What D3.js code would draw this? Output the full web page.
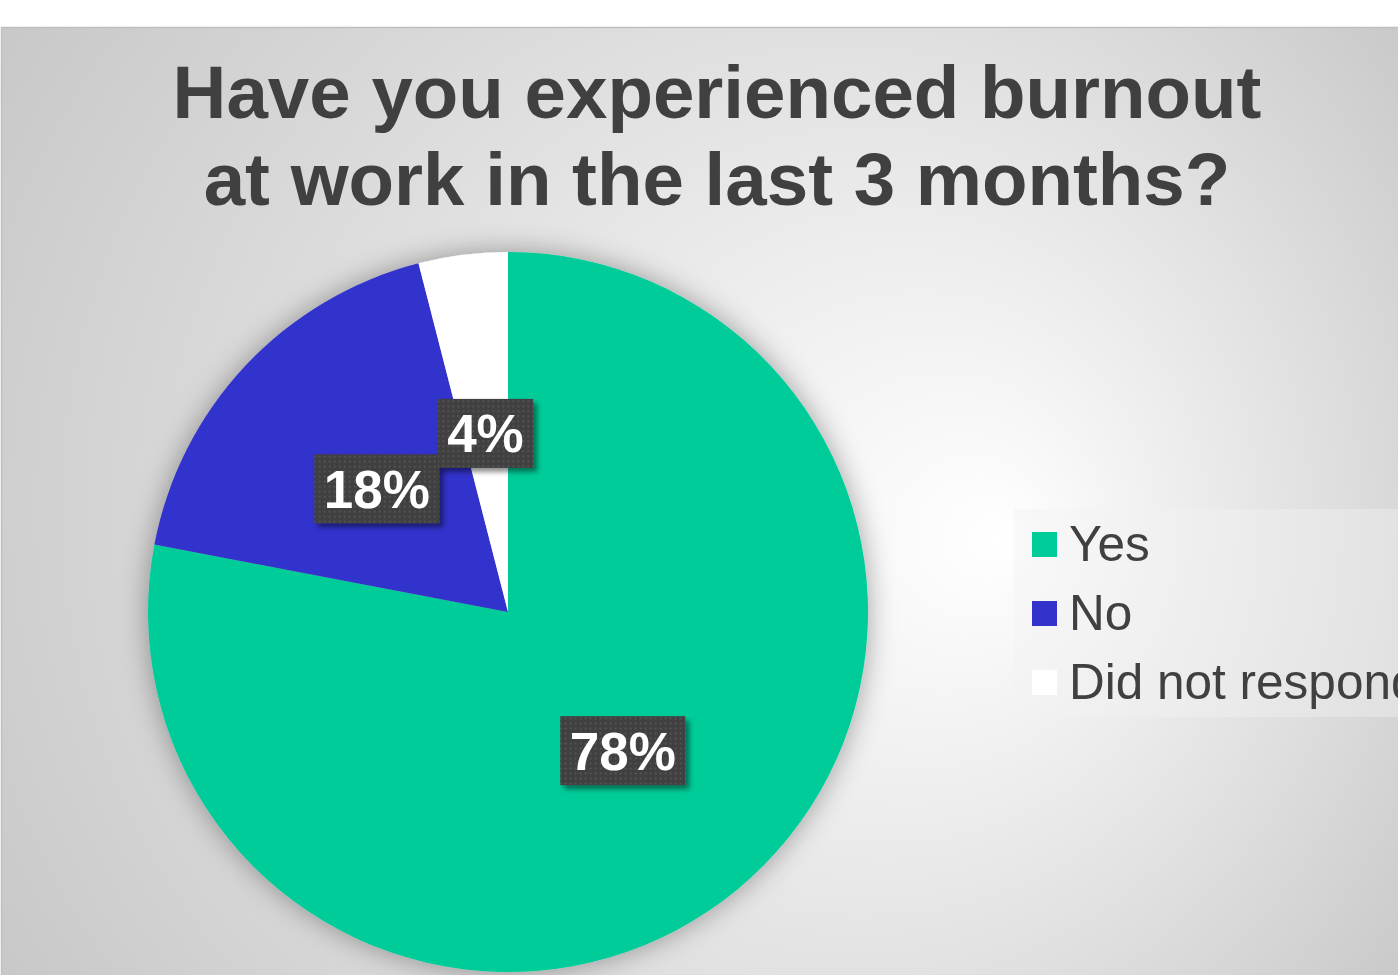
<!DOCTYPE html>
<html>
<head>
<meta charset="utf-8">
<script src="https://cdn.jsdelivr.net/npm/d3@7"></script>
<style>
  html, body { margin: 0; padding: 0; background: #ffffff; }
  svg { display: block; }
</style>
</head>
<body>
<div id="chart"></div>
<script>
// Data
const categories = ['Yes', 'No', 'Did not respond'];
const values = [78, 18, 4];
const colors = ['#00cc99', '#3333cc', '#ffffff'];
const titleLines = ['Have you experienced burnout', 'at work in the last 3 months?'];

const width = 1398;
const height = 975;
const font = '"Liberation Sans", Arial, Helvetica, sans-serif';

let svg = d3.select('#chart')
            .append('svg')
            .attr('width', width)
            .attr('height', height);

let defs = svg.append('defs');

// background gradient, light spot on the right
let grad = defs.append('radialGradient')
               .attr('id', 'bg')
               .attr('gradientUnits', 'userSpaceOnUse')
               .attr('cx', 700).attr('cy', 500).attr('r', 880)
               .attr('fx', 1000).attr('fy', 540);
grad.append('stop').attr('offset', 0).attr('stop-color', '#ffffff');
grad.append('stop').attr('offset', 0.55).attr('stop-color', '#e0e0e0');
grad.append('stop').attr('offset', 1).attr('stop-color', '#c6c6c6');

// soft halo under pie
let pieShadow = defs.append('filter')
                    .attr('id', 'pieShadow')
                    .attr('x', '-20%').attr('y', '-20%')
                    .attr('width', '140%').attr('height', '140%');
pieShadow.append('feGaussianBlur').attr('in', 'SourceAlpha').attr('stdDeviation', 14).attr('result', 'blur');
pieShadow.append('feFlood').attr('flood-color', '#000').attr('flood-opacity', 0.35);
pieShadow.append('feComposite').attr('in2', 'blur').attr('operator', 'in').attr('result', 'shadow');
let pm = pieShadow.append('feMerge');
pm.append('feMergeNode').attr('in', 'shadow');
pm.append('feMergeNode').attr('in', 'SourceGraphic');

// label box shadow
let boxShadow = defs.append('filter')
                    .attr('id', 'boxShadow')
                    .attr('x', '-20%').attr('y', '-20%')
                    .attr('width', '150%').attr('height', '150%');
boxShadow.append('feGaussianBlur').attr('in', 'SourceAlpha').attr('stdDeviation', 2.5).attr('result', 'blur');
boxShadow.append('feOffset').attr('in', 'blur').attr('dx', 4).attr('dy', 4).attr('result', 'off');
boxShadow.append('feFlood').attr('flood-color', '#000').attr('flood-opacity', 0.45);
boxShadow.append('feComposite').attr('in2', 'off').attr('operator', 'in').attr('result', 'shadow');
let bm = boxShadow.append('feMerge');
bm.append('feMergeNode').attr('in', 'shadow');
bm.append('feMergeNode').attr('in', 'SourceGraphic');

// dotted fill of the label boxes
let pat = defs.append('pattern')
              .attr('id', 'dots')
              .attr('patternUnits', 'userSpaceOnUse')
              .attr('width', 5).attr('height', 5);
pat.append('rect').attr('width', 5).attr('height', 5).attr('fill', '#404040');
pat.append('rect').attr('x', 2).attr('y', 2).attr('width', 1.6).attr('height', 1.6).attr('fill', '#5c5c5c');

// page + chart area
svg.append('rect').attr('width', width).attr('height', height).attr('fill', '#ffffff');
svg.append('rect')
   .attr('x', 1.5).attr('y', 27.5)
   .attr('width', width + 10).attr('height', height)
   .attr('fill', 'url(#bg)')
   .attr('stroke', '#bfbfbf')
   .attr('stroke-width', 1.5);

// Title
svg.append('text')
   .attr('x', 717)
   .attr('y', 118)
   .attr('text-anchor', 'middle')
   .style('font-family', font)
   .style('font-weight', 'bold')
   .style('font-size', '74.5px')
   .attr('fill', '#404040')
   .selectAll('tspan')
   .data(titleLines)
   .enter()
   .append('tspan')
   .attr('x', 717)
   .attr('dy', (d, i) => i === 0 ? 0 : 87)
   .text((d) => d);

// Pie
let cx = 508, cy = 612, radius = 360;
let data = categories.map((c, i) => ({name: c, value: values[i], color: colors[i]}));
let total = d3.sum(values);

let pie = d3.pie().sort(null).value((d) => d.value);
let arc = d3.arc().innerRadius(0).outerRadius(radius);
let arcs = pie(data);

let g = svg.append('g').attr('transform', 'translate(' + cx + ',' + cy + ')');

g.append('g')
 .attr('filter', 'url(#pieShadow)')
 .selectAll('path')
 .data(arcs)
 .enter()
 .append('path')
 .attr('d', arc)
 .attr('fill', (d) => d.data.color);

// Data labels
let fmt = (v) => Math.round(v / total * 100) + '%';
let lab = g.selectAll('.lab')
           .data(arcs)
           .enter()
           .append('g')
           .attr('class', 'lab')
           .attr('transform', (d) => 'translate(' + arc.centroid(d) + ')');

lab.append('rect')
   .attr('fill', 'url(#dots)')
   .attr('filter', 'url(#boxShadow)');

let labText = lab.append('text')
                 .attr('text-anchor', 'middle')
                 .attr('y', 19)
                 .style('font-family', font)
                 .style('font-weight', 'bold')
                 .style('font-size', '53px')
                 .attr('fill', '#ffffff')
                 .text((d) => fmt(d.data.value));

labText.each(function(d) {
  let w = this.getComputedTextLength() + 19;
  d3.select(this.parentNode).select('rect')
    .attr('x', -w / 2)
    .attr('y', -34.5)
    .attr('width', w)
    .attr('height', 69);
});

// Legend
let legend = svg.append('g');
legend.append('rect')
      .attr('x', 1014).attr('y', 509)
      .attr('width', 420).attr('height', 208)
      .attr('fill', '#f2f2f2')
      .attr('fill-opacity', 0.4);

let legendY = d3.scalePoint().domain(categories).range([532, 670]);

let item = legend.selectAll('.item')
                 .data(data)
                 .enter()
                 .append('g')
                 .attr('class', 'item')
                 .attr('transform', (d) => 'translate(1032,' + legendY(d.name) + ')');

item.append('rect')
    .attr('width', 25).attr('height', 25)
    .attr('fill', (d) => d.color);

item.append('text')
    .attr('x', 37)
    .attr('y', 29)
    .style('font-family', font)
    .style('font-size', '49.5px')
    .attr('fill', '#404040')
    .text((d) => d.name);
</script>
</body>
</html>
